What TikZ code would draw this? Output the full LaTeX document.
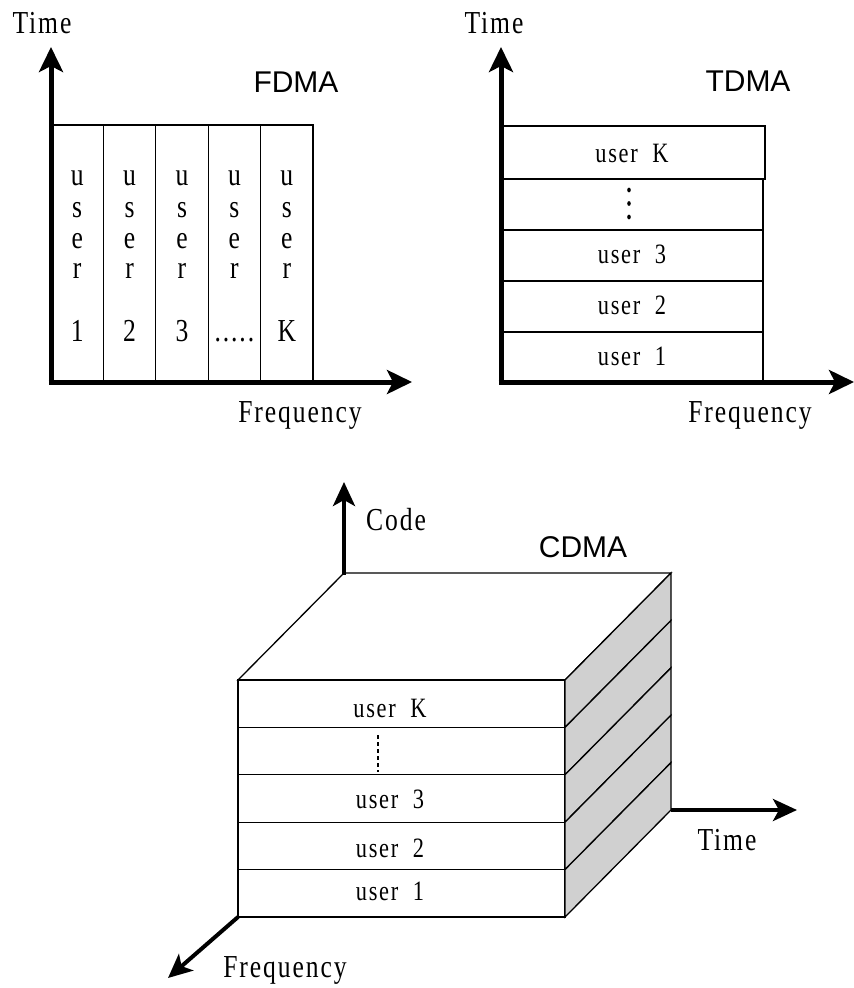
\documentclass[tikz,border=0pt]{standalone}
\usepackage{fontspec}
\usetikzlibrary{arrows.meta}
\newfontfamily\lblfont[FakeStretch=0.8,LetterSpace=6]{Liberation Serif}
\newfontfamily\ttlfont{Liberation Sans}
\definecolor{sidegray}{HTML}{D0D0D0}

\tikzset{
  axis/.style={line width=5pt, -{Stealth[length=25pt,width=24pt,inset=6pt]}},
  axisthin/.style={line width=4pt, -{Stealth[length=24pt,width=22pt,inset=6pt]}},
  cell/.style={draw, line width=1.3pt, fill=white},
  sidecell/.style={draw, line width=1.3pt, fill=sidegray},
  axlabel/.style={font=\lblfont\fontsize{32}{32}\selectfont, anchor=base, inner sep=0pt},
  userlabel/.style={font=\lblfont\fontsize{28}{28}\selectfont, anchor=base, inner sep=0pt},
  letter/.style={font=\lblfont\fontsize{32}{32}\selectfont, anchor=base, inner sep=0pt},
  title/.style={font=\ttlfont\fontsize{30}{30}\selectfont, anchor=base, inner sep=0pt},
}

\begin{document}
\begin{tikzpicture}[x=1pt,y=-1pt]
\useasboundingbox (0,0) rectangle (854,988);

% ---------------- FDMA ----------------
\foreach \i/\d in {0/1,1/2,2/3,3/{.....},4/K} {
  \pgfmathsetmacro\xa{51+52.4*\i}
  \pgfmathsetmacro\xc{\xa+26.2}
  \draw[cell] (\xa,125) rectangle (\xa+52.4,382);
  \node[letter] (f\i u) at (\xc,185) {u};
  \node[letter] (f\i s) at (\xc,217) {s};
  \node[letter] (f\i e) at (\xc,248) {e};
  \node[letter] (f\i r) at (\xc,278) {r};
  \node[letter] (f\i n) at (\xc,341) {\d};
}
\coordinate (fO) at (51,382);
\coordinate (fY) at (51,47);
\coordinate (fX) at (412,382);
\coordinate (fXs) at (48.5,382);
\draw[axis] (fO) -- (fY);
\draw[axis] (fXs) -- (fX);
\node[axlabel] (ftime) at (42,33) {Time};
\node[axlabel] (ffreq) at (300,422) {Frequency};
\node[title] (ftitle) at (296,92) {FDMA};

% ---------------- TDMA ----------------
\draw[cell] (501,332) rectangle (763,382);
\draw[cell] (501,281) rectangle (763,332);
\draw[cell] (501,230) rectangle (763,281);
\draw[cell] (501,179) rectangle (763,230);
\draw[cell] (501,126) rectangle (765,179);
\node[userlabel] (t1) at (632,365) {user~~1};
\node[userlabel] (t2) at (632,314) {user~~2};
\node[userlabel] (t3) at (632,263) {user~~3};
\node[userlabel] (tK) at (632,162) {user~~K};
\foreach \y in {190,203.5,217} \fill (629,\y) ellipse (1.8pt and 2.4pt);
\coordinate (tO) at (501,382);
\coordinate (tY) at (501,47);
\coordinate (tX) at (854,382);
\coordinate (tXs) at (498.5,382);
\draw[axis] (tO) -- (tY);
\draw[axis] (tXs) -- (tX);
\node[axlabel] (ttime) at (494,33) {Time};
\node[axlabel] (tfreq) at (750,422) {Frequency};
\node[title] (ttitle) at (748,91) {TDMA};

% ---------------- CDMA ----------------
% top face
\draw[cell] (238,680) -- (344,573) -- (671,573) -- (565,680) -- cycle;
% front rows and side slices
\foreach \i in {0,...,4} {
  \pgfmathsetmacro\ya{680+47.4*\i}
  \pgfmathsetmacro\yb{680+47.4*(\i+1)}
  \draw[cell] (238,\ya) rectangle (565,\yb);
  \draw[sidecell] (565,\ya) -- (671,\ya-107) -- (671,\yb-107) -- (565,\yb) -- cycle;
}
\node[userlabel] (c1) at (390,900) {user~~1};
\node[userlabel] (c2) at (390,857) {user~~2};
\node[userlabel] (c3) at (390,808) {user~~3};
\node[userlabel] (cK) at (390,717) {user~~K};
\draw[line width=1.6pt, dash pattern=on 4pt off 3pt] (378,735) -- (378,772);
\coordinate (cC0) at (344,575);
\coordinate (cC) at (344,482);
\coordinate (cT0) at (671,810);
\coordinate (cT) at (797,810);
\coordinate (cF0) at (238,917);
\coordinate (cF) at (168,978);
\draw[axisthin] (cC0) -- (cC);
\draw[axisthin] (cT0) -- (cT);
\draw[axisthin] (cF0) -- (cF);
\node[axlabel] (ccode) at (396,530) {Code};
\node[axlabel] (ctime) at (727,850) {Time};
\node[axlabel] (cfreq) at (285,977) {Frequency};
\node[title] (ctitle) at (583,557) {CDMA};
\end{tikzpicture}
\end{document}
